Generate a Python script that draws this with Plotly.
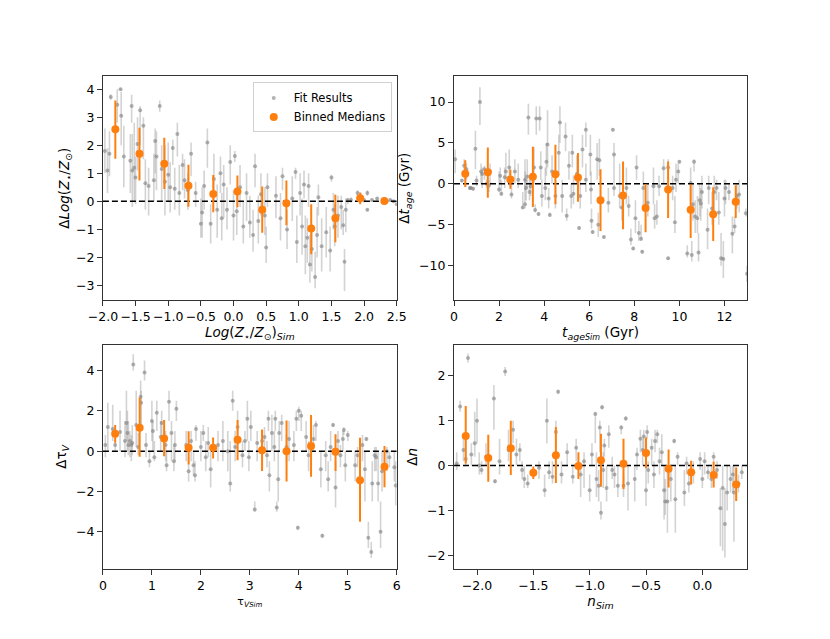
import plotly.graph_objects as go

# ---- panel 1: metallicity ----
z_x = [-1.97, -1.93, -1.9, -1.88, -1.78, -1.73, -1.72, -1.68, -1.58, -1.56, -1.55, -1.52, -1.5, -1.47,
       -1.43, -1.38, -1.35, -1.3, -1.22, -1.2, -1.18, -1.13, -1.1, -1.05, -1.0, -0.97, -0.93, -0.9,
       -0.86, -0.83, -0.78, -0.75, -0.7, -0.65, -0.58, -0.5, -0.48, -0.45, -0.4, -0.35, -0.3, -0.25,
       -0.2, -0.18, -0.15, -0.1, -0.05, 0.0, 0.02, 0.05, 0.1, 0.15, 0.2, 0.25, 0.3, 0.33, 0.38, 0.42,
       0.48, 0.5, 0.52, 0.65, 0.72, 0.75, 0.82, 0.9, 0.95, 0.97, 1.02, 1.05, 1.08, 1.1, 1.13, 1.15,
       1.17, 1.2, 1.25, 1.28, 1.3, 1.35, 1.42, 1.48, 1.5, 1.53, 1.55, 1.6, 1.65, 1.68, 1.7, 1.72,
       1.75, 1.8, 1.9, 1.95, 2.0, 2.05, 2.05, 2.12, 2.2, 2.3, 2.35, 2.4, 2.45, 2.5]
z_y = [1.8, 1.1, 1.7, 3.72, 3.45, 4.0, 3.05, 1.6, 1.45, 3.4, 1.1, 1.2, 0.85, 2.05,
       3.25, 2.7, 0.65, 0.55, 0.75, 2.15, 1.6, 3.4, 1.15, 0.7, 0.95, 0.5, 1.9, 0.45,
       2.4, 0.3, 1.3, 0.75, 0.4, 1.7, 0.3, -0.8, -0.4, 0.55, 2.1, -0.8, 0.8, -0.3,
       1.0, -0.6, 0.6, -0.3, 1.4, -0.5, 1.62, -0.35, 0.5, -0.9, 0.3, -0.75, -1.2, 1.25, -0.7, 0.25,
       -0.5, -1.65, 0.5, 0.2, -0.6, 0.9, -1.0, 0.1, 1.05, -1.45, 0.3, -0.9, 0.6, -1.6, -1.3, 0.55,
       -2.25, -1.7, -2.7, -1.2, 0.15, -1.6, -1.1, -1.75, 0.85, -0.3, -0.9, -0.5, -0.2, -0.85, -2.15, -0.3,
       0.05, 0.05, 0.3, 0.15, 0.05, 0.3, -0.3, 0.05, 0.1, 0.05, 0.0, 0.05, 0.0, -0.1]
z_lo = [1.0, 0.3, 0.9, 3.62, 2.8, 3.95, 2.0, 0.5, 0.3, 2.8, -0.2, 0.0, -0.1, 1.1,
        2.0, 1.5, -0.3, -0.5, 0.0, 1.0, 0.4, 3.2, 0.0, -0.5, 0.0, -0.4, 1.3, -0.3,
        1.6, -0.5, 0.4, 0.1, -0.3, 0.9, -0.2, -1.3, -1.3, -0.3, 1.2, -1.5, 0.0, -1.3,
        0.3, -1.4, -0.6, -1.0, 0.6, -1.4, 1.4, -1.2, -0.2, -1.5, -0.7, -1.3, -1.8, 0.5, -1.5, -0.5,
        -1.2, -2.2, -0.2, -0.6, -1.4, 0.4, -1.7, -0.7, 0.8, -2.2, -0.5, -1.9, 0.1, -2.6, -2.2, -0.2,
        -2.9, -2.5, -3.1, -2.0, -0.5, -2.5, -2.0, -2.5, 0.7, -1.0, -1.6, -1.3, -1.0, -1.2, -3.2, -1.1,
        -0.1, -0.05, 0.2, 0.0, -0.05, 0.2, -0.35, 0.0, 0.05, 0.0, -0.05, 0.0, -0.05, -0.15]
z_hi = [2.6, 1.9, 2.5, 3.82, 4.0, 4.05, 3.9, 2.7, 2.4, 3.8, 2.4, 2.8, 1.6, 3.0,
        3.4, 3.0, 1.5, 1.2, 1.7, 2.6, 2.5, 3.6, 2.0, 2.0, 2.1, 1.4, 2.2, 1.2,
        2.8, 1.3, 1.7, 1.5, 1.0, 2.1, 0.7, 0.1, 0.5, 1.1, 2.6, -0.1, 1.7, 0.6,
        1.6, 0.3, 1.3, 0.5, 2.0, 0.4, 1.8, 0.5, 1.3, 0.0, 1.0, 0.2, -0.3, 1.7, 0.2, 1.0,
        0.5, -0.9, 1.0, 0.9, 0.3, 1.2, -0.3, 0.9, 1.2, -0.5, 1.0, 0.1, 1.1, -0.5, -0.6, 1.0,
        -1.2, -0.8, -1.8, -0.2, 0.6, -0.6, -0.2, -0.9, 0.95, 0.3, -0.1, 0.2, 0.2, -0.3, -1.7, 0.1,
        0.1, 0.15, 0.4, 0.3, 0.1, 0.4, -0.25, 0.1, 0.15, 0.1, 0.05, 0.1, 0.05, -0.05]

zb_x = [-1.81, -1.44, -1.06, -0.69, -0.31, 0.06, 0.44, 0.81, 1.19, 1.56, 1.94, 2.31]
zb_y = [2.57, 1.70, 1.34, 0.56, 0.26, 0.35, -0.30, -0.07, -0.97, -0.60, 0.11, 0.01]
zb_lo = [1.52, 0.74, 0.44, -0.19, -0.39, -0.21, -1.12, -0.85, -1.89, -1.46, -0.10, -0.04]
zb_hi = [3.60, 2.63, 2.27, 1.31, 0.94, 0.92, 0.53, 0.74, -0.10, 0.24, 0.32, 0.06]

# ---- panel 2: age ----
t_x = [0.05, 0.35, 0.45, 0.55, 0.7, 0.75, 0.85, 0.95, 1.0, 1.15, 1.2, 1.25, 1.35, 1.45, 1.55, 1.6,
       2.0, 2.05, 2.1, 2.25, 2.3, 2.45, 2.55, 2.7, 2.85, 3.05, 3.15, 3.15, 3.2, 3.25, 3.3, 3.35,
       3.4, 3.55, 3.6, 3.65, 3.75, 3.8, 3.85, 3.9, 4.05, 4.1, 4.15, 4.2, 4.25, 4.35, 4.5, 4.65,
       4.7, 4.8, 4.95, 5.0, 5.1, 5.2, 5.25, 5.3, 5.45, 5.55, 5.6, 5.7, 5.85, 5.85, 6.05, 6.08,
       6.1, 6.15, 6.35, 6.4, 6.45, 6.65, 6.85, 7.05, 7.1, 7.1, 7.35, 7.45, 7.65, 7.75, 7.85, 7.95,
       8.05, 8.1, 8.2, 8.3, 8.35, 8.4, 8.6, 8.85, 8.9, 9.0, 9.1, 9.3, 9.5, 9.5, 9.7, 9.8,
       9.85, 9.95, 10.0, 10.35, 10.5, 10.55, 10.6, 10.65, 10.7, 10.8, 10.85, 10.9, 10.95, 11.0, 11.25, 11.3,
       11.45, 11.55, 11.65, 11.75, 11.85, 11.95, 12.0, 12.05, 12.2, 12.35, 12.45, 12.55, 12.65, 12.95, 13.0]
t_y = [3.0, 0.4, 2.2, 1.8, -0.5, -0.5, -0.6, 4.3, 0.4, 10.0, 1.5, 1.2, 1.8, 0.0, -0.2, 1.5,
       -0.7, 1.0, -1.2, 0.8, 1.5, 2.0, -1.3, 1.5, 0.5, -2.9, -2.5, 0.5, -0.5, 0.9, 8.1, -1.0,
       -0.3, 2.0, -3.2, 8.0, -3.7, 8.0, 2.0, -1.5, -0.5, 2.7, 4.8, -1.8, -3.8, 1.5, -1.5, 3.8,
       7.5, -1.5, 5.8, -3.9, 2.2, -1.5, 3.8, -1.2, 1.2, -5.4, -1.5, 4.2, 6.6, 0.5, 3.6, -0.7,
       -4.5, -5.9, 3.0, -5.0, 2.9, -6.5, -2.3, 6.6, 3.6, -0.5, -1.5, -2.9, -0.5, -2.7, -6.8, -7.9,
       -4.2, 2.0, -6.0, -6.7, -8.3, -0.5, -2.3, -0.3, -4.2, -4.0, -0.3, 1.9, -9.1, 2.0, -0.5, -4.7,
       0.5, 1.5, 2.7, -8.5, 0.1, -8.7, -2.5, 2.7, -4.0, -4.2, -8.4, -2.0, -2.4, -1.0, -5.6, -0.5,
       -3.0, -1.0, -0.5, -3.5, -9.1, -9.2, -1.8, -0.5, -1.0, -6.1, -5.2, -1.5, -1.3, -3.6, -11.0]
t_lo = [1.3, 0.2, 1.0, 0.5, -0.7, -0.7, -0.8, 1.8, -0.3, 7.2, 0.0, -0.5, 0.5, -0.5, -1.0, 0.0,
        -1.0, 0.0, -1.5, -0.5, 0.5, 1.0, -1.8, 0.0, -0.5, -3.0, -3.0, -0.8, -2.0, -0.5, 6.0, -2.0,
        -1.5, 0.0, -3.5, 6.0, -3.9, 6.5, 0.5, -2.8, -2.0, 1.0, 2.0, -3.0, -4.0, 0.0, -3.0, 1.0,
        5.0, -3.5, 4.0, -4.5, 0.5, -3.0, 2.0, -2.5, 0.0, -5.6, -3.0, 2.0, 4.5, -1.0, 1.0, -2.5,
        -5.5, -6.1, 0.5, -6.5, 1.0, -6.7, -3.5, 6.4, 1.0, -1.5, -3.0, -4.5, -2.5, -4.0, -7.5, -8.1,
        -6.0, 0.5, -7.0, -7.0, -8.5, -3.0, -4.0, -2.5, -5.5, -5.0, -1.5, 0.0, -9.3, 0.0, -2.0, -6.0,
        -1.0, 0.0, 2.5, -9.0, -2.0, -9.5, -4.5, 1.5, -6.0, -6.0, -9.5, -4.0, -4.5, -3.0, -8.0, -2.5,
        -5.0, -3.5, -2.0, -5.0, -10.0, -11.5, -4.0, -2.5, -2.0, -8.5, -6.0, -3.0, -3.5, -4.0, -12.0]
t_hi = [4.2, 0.6, 3.0, 2.5, -0.3, -0.3, -0.4, 6.5, 1.0, 11.8, 2.5, 2.0, 2.2, 0.5, 0.5, 2.5,
        1.5, 2.0, 0.5, 2.0, 3.8, 4.2, 0.5, 3.0, 2.5, -1.0, 1.5, 3.0, 0.5, 3.0, 9.8, 1.0,
        1.0, 4.5, -2.5, 9.5, -3.5, 9.5, 4.0, 0.5, 2.0, 5.0, 9.0, -0.5, -3.5, 3.5, -0.5, 6.0,
        9.5, 0.5, 7.5, -3.0, 4.0, 0.0, 6.0, 1.0, 3.5, -5.2, 0.5, 6.0, 7.5, 2.5, 6.0, 1.5,
        -3.0, -5.7, 5.0, -3.5, 5.5, -6.3, -0.5, 6.8, 5.0, 1.0, 2.5, -1.0, 2.0, -1.5, -5.5, -7.7,
        -2.0, 3.5, -4.5, -5.0, -8.1, 1.5, 0.0, 2.0, -2.5, -2.0, 1.0, 3.0, -8.9, 3.0, 1.0, -1.5,
        2.5, 2.5, 2.9, -7.5, 2.0, -7.0, 0.0, 3.0, -2.0, -1.5, -6.0, 0.0, -0.5, 1.0, -3.0, 1.0,
        -1.0, 1.0, 0.5, -1.0, -6.0, -7.0, 0.5, 0.5, 0.0, -4.0, -4.0, 0.0, 0.5, -3.0, -10.0]

tb_x = [0.5, 1.5, 2.5, 3.5, 4.5, 5.5, 6.5, 7.5, 8.5, 9.5, 10.5, 11.5, 12.5]
tb_y = [1.22, 1.43, 0.53, 0.86, 1.18, 0.78, -2.0, -1.43, -2.94, -0.69, -3.18, -3.71, -2.20]
tb_lo = [-0.37, -1.71, -0.61, -2.82, -2.49, -2.2, -5.76, -5.55, -5.92, -4.16, -6.61, -6.98, -4.16]
tb_hi = [2.9, 4.45, 1.76, 4.53, 4.78, 3.76, 1.8, 2.73, -0.04, 2.73, -0.08, -0.41, -0.16]

# ---- panel 3: tau_V ----
v_x = [0.05, 0.1, 0.2, 0.25, 0.35, 0.45, 0.48, 0.5, 0.52, 0.55, 0.58, 0.6, 0.62, 0.68, 0.72, 0.77,
       0.78, 0.85, 0.88, 0.95, 1.0, 1.02, 1.05, 1.1, 1.18, 1.2, 1.28, 1.3, 1.35, 1.4, 1.45, 1.47,
       1.5, 1.7, 1.75, 1.8, 1.85, 1.88, 1.9, 2.0, 2.05, 2.1, 2.15, 2.2, 2.35, 2.45, 2.55, 2.6,
       2.65, 2.7, 2.75, 2.85, 2.9, 2.95, 2.98, 3.02, 3.1, 3.15, 3.25, 3.3, 3.35, 3.38, 3.4, 3.45,
       3.5, 3.52, 3.55, 3.58, 3.6, 3.65, 3.75, 3.8, 3.9, 3.95, 3.98, 4.0, 4.05, 4.15, 4.2, 4.3,
       4.35, 4.45, 4.48, 4.55, 4.6, 4.65, 4.7, 4.75, 4.8, 4.85, 4.9, 4.92, 4.95, 5.0, 5.15, 5.2,
       5.3, 5.35, 5.38, 5.42, 5.48, 5.5, 5.55, 5.58, 5.62, 5.67, 5.7, 5.8, 5.85, 5.95, 5.98]
v_y = [0.3, 1.2, 1.1, 0.3, 0.95, 0.5, 1.4, 0.9, 0.3, 0.5, 0.3, 0.4, 4.3, 1.3, 0.2, 2.7,
       2.4, 3.9, 0.3, -0.5, 1.5, 1.0, -0.3, 1.9, 0.7, 1.4, 0.3, -0.7, 2.45, 0.9, -0.5, 0.3,
       2.1, 0.3, -1.0, 0.5, -0.7, -1.2, 1.1, 0.2, 0.9, -0.3, 0.4, -0.9, 0.3, 0.5, 0.0, -1.6,
       2.5, 0.2, 1.2, -0.2, 0.5, 1.6, -0.3, 1.2, -2.9, 0.4, 0.5, 0.7, -0.2, 1.6, -1.2, 0.9,
       0.2, 1.6, -2.8, -1.4, 0.9, 1.4, 0.2, 0.6, 0.3, 1.6, -3.8, 2.0, 1.75, 0.7, -0.2, 0.6,
       1.3, -0.9, -4.2, -0.2, -1.4, 0.2, 1.3, -1.8, 0.5, -0.2, 0.6, 1.05, -0.7, 0.8, -0.7, -0.2,
       0.3, -0.9, 0.6, -4.3, -5.0, -1.6, -0.2, -0.3, -1.6, -4.0, -1.0, 0.0, -0.3, -0.8, -1.7]
v_lo = [-0.3, 0.0, 0.5, 0.0, 0.0, -0.3, 0.5, 0.0, -0.2, -0.3, -0.5, -0.2, 4.0, 0.2, -0.2, 1.2,
        1.0, 3.5, -0.3, -0.8, 0.5, 0.0, -0.5, 1.0, 0.0, 0.5, -0.5, -1.0, 1.5, -0.5, -1.0, -0.5,
        1.5, -0.5, -1.5, -0.5, -1.2, -1.5, 0.5, -0.5, 0.5, -1.0, -0.3, -1.8, -0.5, -0.5, -1.0, -2.0,
        2.0, -0.5, 0.3, -0.8, 0.0, 0.5, -1.0, 0.5, -3.0, -0.5, 0.0, 0.0, -0.8, 1.0, -2.0, 0.0,
        -0.5, 1.0, -3.0, -2.5, 0.0, 0.5, -0.5, -0.5, -0.5, 1.0, -3.9, 1.5, 1.0, 0.0, -1.0, 0.0,
        0.5, -1.8, -4.3, -1.0, -2.0, -0.5, 1.2, -2.8, 0.0, -0.8, 0.0, 0.8, -1.5, 0.5, -1.5, -0.8,
        -0.5, -2.5, 0.5, -4.8, -5.3, -2.5, -1.0, -1.0, -2.5, -4.8, -2.0, -1.0, -0.8, -1.5, -2.7]
v_hi = [0.8, 2.4, 2.3, 0.5, 2.0, 1.5, 3.0, 2.0, 1.5, 1.0, 0.8, 1.3, 4.8, 3.0, 0.9, 3.5,
        3.0, 4.5, 0.9, 0.0, 2.5, 1.5, 0.5, 2.5, 1.5, 2.0, 1.0, 0.0, 3.0, 1.5, 0.3, 1.0,
        2.5, 1.0, -0.3, 1.0, 0.0, -0.5, 1.3, 1.0, 1.3, 0.5, 1.2, 0.0, 1.0, 1.5, 1.0, 0.5,
        3.0, 1.0, 2.0, 0.5, 1.0, 2.5, 0.5, 2.0, -2.5, 1.0, 1.0, 1.2, 0.5, 2.0, -0.5, 1.8,
        1.0, 2.0, -2.5, 0.0, 1.5, 1.8, 0.8, 1.5, 1.0, 2.0, -3.7, 2.2, 2.0, 1.5, 0.5, 1.3,
        1.5, 0.0, -4.1, 0.5, -0.5, 1.0, 1.4, -0.5, 1.0, 0.3, 1.0, 1.2, 0.0, 1.0, 0.0, 0.2,
        0.8, 0.0, 0.7, -3.5, -4.5, -0.5, 0.2, 0.2, 0.0, -2.5, 0.0, 0.2, 0.0, 0.0, -0.5]

vb_x = [0.25, 0.75, 1.25, 1.75, 2.25, 2.75, 3.25, 3.75, 4.25, 4.75, 5.25, 5.75]
vb_y = [0.86, 1.16, 0.63, 0.17, 0.17, 0.56, 0.05, 0.0, 0.25, -0.03, -1.44, -0.78]
vb_lo = [0.41, -0.28, -0.25, -0.66, -0.36, -0.45, -0.98, -1.50, -1.27, -0.99, -3.5, -1.79]
vb_hi = [1.29, 2.66, 1.54, 0.99, 0.68, 1.55, 1.07, 1.52, 1.79, 0.84, 0.66, 0.25]

# ---- panel 4: n ----
n_x = [-2.18, -2.15, -2.12, -2.1, -2.08, -2.05, -2.02, -2.0, -1.98, -1.96, -1.92, -1.85, -1.84, -1.8,
       -1.75, -1.72, -1.68, -1.65, -1.62, -1.6, -1.58, -1.55, -1.45, -1.4, -1.38, -1.36, -1.33, -1.3,
       -1.28, -1.25, -1.2, -1.15, -1.12, -1.08, -1.05, -1.0, -0.98, -0.95, -0.94, -0.92, -0.91, -0.9,
       -0.89, -0.88, -0.87, -0.85, -0.83, -0.8, -0.78, -0.75, -0.72, -0.7, -0.68, -0.66, -0.6, -0.58,
       -0.55, -0.53, -0.52, -0.5, -0.49, -0.48, -0.45, -0.43, -0.42, -0.4, -0.38, -0.36, -0.34, -0.33,
       -0.31, -0.28, -0.25, -0.24, -0.22, -0.16, -0.14, -0.12, -0.08, -0.02, 0.0, 0.02, 0.05, 0.08,
       0.1, 0.13, 0.16, 0.18, 0.2, 0.22, 0.25, 0.27, 0.28, 0.32, 0.35]
n_y = [0.05, 1.32, 0.35, 0.15, 2.4, 0.25, 0.5, 1.0, 0.0, -0.1, 0.2, 1.5, -0.35, 0.1,
       2.1, 0.35, 0.8, 0.25, 0.35, -0.1, -0.3, -0.4, -0.05, -0.55, 1.0, -0.15, -0.25, 0.75,
       1.65, -0.2, 0.3, -0.25, 0.4, -0.2, 0.1, -0.55, 0.25, 1.15, -0.3, -0.45, 0.85, -1.05,
       1.3, -0.1, 0.45, -0.5, 0.7, -0.1, -0.2, -0.45, 0.85, -0.45, 1.05, -0.4, -0.3, 0.25,
       0.6, 0.35, 0.65, -0.55, 0.75, -0.1, 0.4, -0.2, 0.55, 0.7, 0.1, 0.3, -0.55, -0.8,
       -0.8, -0.3, 0.55, -0.75, 0.2, -0.6, 0.05, -0.4, -0.15, 0.15, -0.3, 0.1, -0.15, -0.3,
       0.2, -0.1, -0.95, -0.5, -1.3, -0.6, -0.3, -0.2, -0.6, -0.4, -0.15]
n_lo = [-0.1, 1.2, 0.1, 0.0, 2.3, 0.0, 0.2, 0.5, -0.2, -0.2, 0.0, 0.8, -0.4, -0.2,
        2.0, 0.1, 0.5, 0.0, 0.1, -0.3, -0.5, -0.5, -0.3, -0.7, 0.5, -0.3, -0.4, 0.4,
        1.6, -0.4, 0.0, -0.4, 0.1, -0.7, -0.5, -0.8, 0.0, 0.5, -0.7, -0.8, 0.3, -1.2,
        1.25, -0.5, 0.2, -0.8, 0.4, -0.3, -0.5, -0.7, 0.7, -0.7, 1.0, -1.0, -0.8, -0.1,
        0.3, 0.0, 0.3, -0.9, 0.6, -0.4, 0.0, -0.5, 0.3, 0.5, -0.2, 0.0, -1.2, -1.1,
        -1.5, -0.8, 0.5, -1.5, 0.0, -0.9, -0.2, -0.6, -0.4, -0.1, -0.5, -0.2, -0.3, -0.5,
        0.1, -0.3, -1.8, -1.9, -2.05, -1.0, -0.6, -0.6, -1.7, -0.6, -0.3]
n_hi = [0.3, 1.45, 0.7, 0.6, 2.5, 0.5, 1.2, 1.5, 0.3, 0.1, 0.5, 1.8, -0.3, 0.6,
        2.2, 0.8, 1.0, 0.6, 0.5, 0.1, 0.0, -0.2, 0.1, -0.2, 1.5, 0.1, 0.1, 1.0,
        1.7, 0.1, 0.5, 0.0, 0.6, 0.0, 0.3, -0.2, 0.5, 1.2, 0.3, -0.1, 1.0, -0.8,
        1.35, 0.3, 0.6, 0.0, 0.9, 0.2, 0.0, 0.0, 0.9, -0.2, 1.1, 0.0, 0.0, 0.4,
        0.8, 0.6, 0.8, 0.0, 0.9, 0.1, 0.6, 0.1, 0.8, 0.8, 0.4, 0.7, 0.0, -0.3,
        0.0, 0.0, 0.6, 0.0, 0.3, -0.1, 0.2, -0.1, 0.1, 0.3, 0.0, 0.3, 0.0, 0.0,
        0.3, 0.1, -0.5, 0.0, -0.5, 0.0, 0.0, 0.0, 0.0, -0.2, 0.0]

nb_x = [-2.1, -1.9, -1.7, -1.5, -1.3, -1.1, -0.9, -0.7, -0.5, -0.3, -0.1, 0.1, 0.3]
nb_y = [0.66, 0.17, 0.39, -0.16, 0.23, -0.01, 0.12, 0.04, 0.28, -0.07, -0.15, -0.21, -0.42]
nb_lo = [0.05, -0.36, -0.21, -0.30, -0.39, -0.30, -0.47, -0.52, -0.06, -0.49, -0.42, -0.49, -0.79]
nb_hi = [1.33, 0.69, 1.0, -0.02, 0.86, 0.30, 0.71, 0.60, 0.63, 0.36, 0.11, 0.09, -0.04]

ORANGE = '#ff7f0e'
FONT = 'DejaVu Sans'

panels = [
    dict(x=z_x, y=z_y, lo=z_lo, hi=z_hi, bx=zb_x, by=zb_y, blo=zb_lo, bhi=zb_hi,
         xr=[-2.0, 2.5], yr=[-3.53, 4.47], dx=[0.124, 0.478], dy=[0.530, 0.881],
         xt=[-2.0, -1.5, -1.0, -0.5, 0.0, 0.5, 1.0, 1.5, 2.0, 2.5], yt=[-3, -2, -1, 0, 1, 2, 3, 4], xfmt='.1f',
         xs=0, ys=3,
         xtitle='<i>Log</i>(<i>Z</i><sub>⋆</sub>/<i>Z</i><sub>⊙</sub>)<sub><i>Sim</i></sub>',
         ytitle='Δ<i>Log</i>(<i>Z</i><sub>⋆</sub>/<i>Z</i><sub>⊙</sub>)'),
    dict(x=t_x, y=t_y, lo=t_lo, hi=t_hi, bx=tb_x, by=tb_y, blo=tb_lo, bhi=tb_hi,
         xr=[0, 13], yr=[-14.24, 13.18], dx=[0.547, 0.900], dy=[0.530, 0.881],
         xt=[0, 2, 4, 6, 8, 10, 12], yt=[-10, -5, 0, 5, 10], xfmt='',
         xs=2, ys=6,
         xtitle="<i>t</i><sub><i>age<span style='font-size:8px'>Sim</span></i></sub> (Gyr)",
         ytitle='Δ<i>t</i><sub><i>age</i></sub> (Gyr)'),
    dict(x=v_x, y=v_y, lo=v_lo, hi=v_hi, bx=vb_x, by=vb_y, blo=vb_lo, bhi=vb_hi,
         xr=[0, 6], yr=[-5.83, 5.26], dx=[0.124, 0.478], dy=[0.110, 0.460],
         xt=[0, 1, 2, 3, 4, 5, 6], yt=[-4, -2, 0, 2, 4], xfmt='',
         xs=3, ys=6,
         xtitle="<span style='font-size:11px'>τ<sub><i>V<span style='font-size:7px'>Sim</span></i></sub></span>",
         ytitle='Δτ<sub><i>V</i></sub>'),
    dict(x=n_x, y=n_y, lo=n_lo, hi=n_hi, bx=nb_x, by=nb_y, blo=nb_lo, bhi=nb_hi,
         xr=[-2.204, 0.396], yr=[-2.30, 2.69], dx=[0.547, 0.900], dy=[0.110, 0.460],
         xt=[-2.0, -1.5, -1.0, -0.5, 0.0], yt=[-2, -1, 0, 1, 2], xfmt='.1f',
         xs=3, ys=6,
         xtitle='<i>n</i><sub><i>Sim</i></sub>',
         ytitle='Δ<i>n</i>'),
]

fig = go.Figure()

for i, p in enumerate(panels):
    k = '' if i == 0 else str(i + 1)
    xa, ya = 'x' + k, 'y' + k
    first = i == 0
    # individual fit results
    fig.add_trace(go.Scatter(
        x=p['x'], y=p['y'], mode='markers', xaxis=xa, yaxis=ya,
        name='Fit Results', showlegend=first, legendrank=1,
        marker=dict(color='rgba(128,128,128,0.6)', size=4),
        error_y=dict(type='data', symmetric=False,
                     array=[h - v for h, v in zip(p['hi'], p['y'])],
                     arrayminus=[v - l for l, v in zip(p['lo'], p['y'])],
                     color='rgba(150,150,150,0.42)', thickness=1.6, width=0),
        hoverinfo='skip'))
    # zero line
    fig.add_trace(go.Scatter(
        x=p['xr'], y=[0, 0], mode='lines', xaxis=xa, yaxis=ya, showlegend=False,
        line=dict(color='black', width=1.5, dash='6px,3px'), hoverinfo='skip'))
    # binned medians
    fig.add_trace(go.Scatter(
        x=p['bx'], y=p['by'], mode='markers', xaxis=xa, yaxis=ya,
        name='Binned Medians', showlegend=first, legendrank=2,
        marker=dict(color=ORANGE, size=8),
        error_y=dict(type='data', symmetric=False,
                     array=[h - v for h, v in zip(p['bhi'], p['by'])],
                     arrayminus=[v - l for l, v in zip(p['blo'], p['by'])],
                     color=ORANGE, thickness=2, width=0)))

    axis_common = dict(showgrid=False, zeroline=False, showline=True, mirror=True,
                       linecolor='#333', linewidth=1, ticks='outside', ticklen=5,
                       tickcolor='#333', tickangle=0, automargin=False,
                       tickfont=dict(size=12.5, color='black'))
    fig.layout['xaxis' + k] = dict(
        domain=p['dx'], range=p['xr'], anchor=ya, tickvals=p['xt'], tickformat=p['xfmt'],
        title=dict(text=p['xtitle'], font=dict(size=13.5), standoff=p['xs']), **axis_common)
    fig.layout['yaxis' + k] = dict(
        domain=p['dy'], range=p['yr'], anchor=xa, tickvals=p['yt'],
        title=dict(text=p['ytitle'], font=dict(size=13.5), standoff=p['ys']), **axis_common)

fig.update_layout(
    width=830, height=639,
    margin=dict(l=0, r=0, t=0, b=0),
    paper_bgcolor='white', plot_bgcolor='white',
    font=dict(family=FONT, size=13.5, color='black'),
    legend=dict(x=0.472, y=0.871, xanchor='right', yanchor='top',
                bgcolor='rgba(255,255,255,0.85)', bordercolor='#d0d0d0', borderwidth=1,
                font=dict(size=11.5), tracegroupgap=2),
)

# drop the browser's default page margin so the figure sits at the window origin
fig.write_html('out.html', config={'displayModeBar': False},
               post_script="document.body.style.margin='0px';")
